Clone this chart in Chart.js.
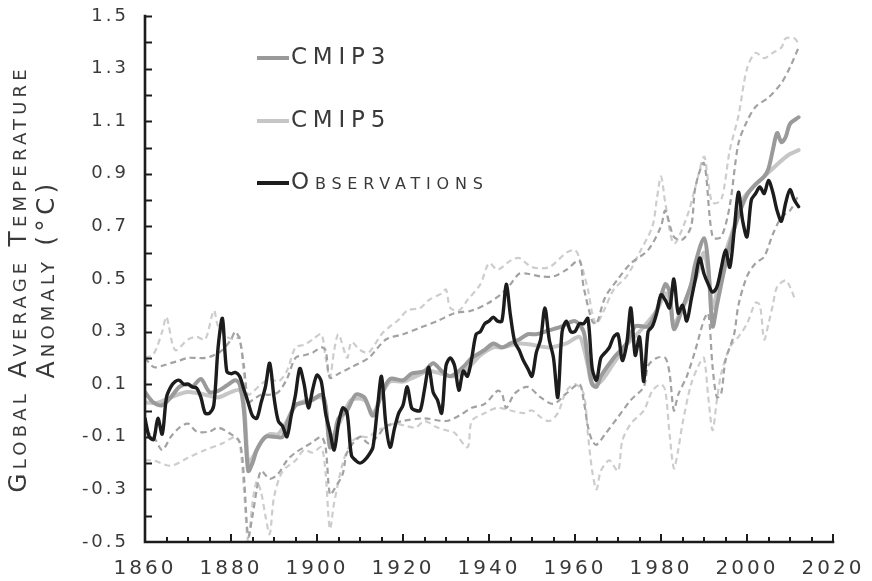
<!DOCTYPE html>
<html>
<head>
<meta charset="utf-8">
<script src="https://cdn.jsdelivr.net/npm/chart.js@4/dist/chart.umd.min.js"></script>
<style>
  html, body { margin: 0; padding: 0; background: #ffffff; }
  #wrap { width: 872px; height: 581px; }
</style>
</head>
<body>
<div id="wrap"><canvas id="chart" width="872" height="581"></canvas></div>
<script>
// Annual global temperature anomaly (°C), observations from 1860 onward
const obsStartYear = 1860;
const observations = [
  -0.03, -0.10, -0.11, -0.03, -0.09, 0.05, 0.09, 0.11, 0.115, 0.10,
  0.10, 0.09, 0.085, 0.05, -0.01, -0.01, 0.02, 0.24, 0.35, 0.15,
  0.14, 0.145, 0.13, 0.08, 0.03, -0.02, -0.03, 0.03, 0.09, 0.18,
  0.05, -0.04, -0.06, -0.10, -0.02, 0.06, 0.16, 0.10, 0.01, 0.08,
  0.135, 0.11, -0.01, -0.08, -0.15, -0.05, 0.01, -0.01, -0.17, -0.19,
  -0.20, -0.19, -0.17, -0.14, 0.00, 0.13, -0.05, -0.14, -0.07, -0.01,
  0.02, 0.09, 0.01, 0.00, 0.00, 0.08, 0.165, 0.07, 0.04, -0.01,
  0.17, 0.20, 0.17, 0.077, 0.15, 0.13, 0.20, 0.29, 0.30, 0.33,
  0.34, 0.355, 0.34, 0.34, 0.48, 0.36, 0.26, 0.23, 0.19, 0.16,
  0.13, 0.22, 0.27, 0.39, 0.27, 0.20, 0.05, 0.30, 0.34, 0.30,
  0.30, 0.33, 0.33, 0.35, 0.16, 0.115, 0.20, 0.22, 0.24, 0.28,
  0.29, 0.19, 0.25, 0.39, 0.21, 0.28, 0.11, 0.30, 0.32, 0.37,
  0.44, 0.42, 0.39, 0.50, 0.37, 0.40, 0.34, 0.42, 0.50, 0.58,
  0.52, 0.48, 0.45, 0.47, 0.54, 0.61, 0.545, 0.68, 0.83, 0.72,
  0.66, 0.80, 0.825, 0.85, 0.825, 0.875, 0.83, 0.76, 0.72, 0.79,
  0.84, 0.80, 0.775
];

// Model ensemble means, [year, anomaly]
const cmip3Mean = [
  [1860,0.07],[1862,0.03],[1864,0.02],[1866,0.05],[1868,0.09],[1870,0.10],[1871,0.09],[1873,0.12],
  [1875,0.07],[1877,0.075],[1879,0.095],[1881,0.115],[1882,0.10],[1883,0.00],[1884,-0.23],[1885,-0.20],
  [1886,-0.15],[1888,-0.10],[1890,-0.10],[1892,-0.10],[1893,-0.05],[1895,0.02],[1897,0.03],[1899,0.04],
  [1901,0.06],[1902,0.02],[1903,-0.14],[1904,-0.10],[1905,-0.03],[1907,0.00],[1909,0.06],[1911,0.05],
  [1913,-0.02],[1915,0.06],[1917,0.12],[1920,0.115],[1922,0.14],[1925,0.15],[1927,0.18],[1929,0.15],
  [1931,0.13],[1934,0.165],[1936,0.20],[1939,0.23],[1941,0.255],[1943,0.24],[1945,0.255],[1947,0.27],
  [1949,0.29],[1951,0.29],[1954,0.305],[1957,0.32],[1960,0.34],[1962,0.30],[1963,0.19],[1964,0.10],
  [1965,0.09],[1966,0.13],[1969,0.20],[1972,0.255],[1974,0.32],[1977,0.32],[1979,0.38],[1981,0.48],
  [1982,0.45],[1983,0.31],[1985,0.39],[1987,0.48],[1988,0.56],[1990,0.655],[1991,0.55],[1992,0.32],
  [1993,0.40],[1994,0.48],[1996,0.63],[1998,0.74],[2000,0.82],[2002,0.86],[2004,0.89],[2005,0.92],
  [2006,0.99],[2007,1.055],[2008,1.02],[2009,1.04],[2010,1.09],[2012,1.115]
];
const cmip5Mean = [
  [1860,0.03],[1863,0.03],[1866,0.05],[1870,0.07],[1874,0.06],[1877,0.05],[1880,0.07],[1882,0.077],
  [1883,0.03],[1884,-0.20],[1885,-0.18],[1887,-0.12],[1889,-0.09],[1891,-0.09],[1893,-0.04],[1895,0.02],
  [1898,0.04],[1901,0.05],[1902,0.01],[1903,-0.12],[1904,-0.09],[1906,-0.02],[1908,0.04],[1911,0.04],
  [1913,-0.01],[1915,0.06],[1917,0.11],[1920,0.11],[1923,0.13],[1926,0.15],[1929,0.14],[1932,0.13],
  [1935,0.16],[1938,0.21],[1941,0.24],[1943,0.24],[1947,0.255],[1950,0.25],[1954,0.24],[1958,0.255],
  [1961,0.28],[1962,0.24],[1963,0.17],[1964,0.10],[1966,0.11],[1969,0.18],[1972,0.25],[1975,0.30],
  [1979,0.38],[1981,0.445],[1982,0.42],[1983,0.33],[1985,0.39],[1987,0.45],[1989,0.55],[1990,0.60],
  [1991,0.52],[1992,0.39],[1993,0.45],[1995,0.60],[1997,0.70],[1998,0.78],[2000,0.825],[2002,0.86],
  [2004,0.89],[2006,0.92],[2008,0.95],[2010,0.975],[2012,0.99]
];

// Ensemble spread (upper and lower bounds), [year, anomaly]
const cmip3Upper = [
  [1860,0.20],[1862,0.165],[1864,0.17],[1866,0.18],[1868,0.19],[1870,0.20],[1872,0.20],[1874,0.20],
  [1876,0.21],[1878,0.23],[1880,0.27],[1881,0.30],[1882,0.27],[1883,0.17],[1884,0.03],[1885,0.04],
  [1887,0.06],[1889,0.06],[1891,0.07],[1893,0.12],[1895,0.20],[1897,0.21],[1899,0.22],[1901,0.24],
  [1902,0.23],[1903,0.125],[1905,0.14],[1908,0.165],[1912,0.20],[1916,0.27],[1920,0.29],[1924,0.315],
  [1928,0.34],[1932,0.37],[1936,0.38],[1940,0.41],[1943,0.445],[1945,0.48],[1947,0.52],[1949,0.52],
  [1952,0.51],[1955,0.51],[1958,0.535],[1961,0.57],[1962,0.47],[1964,0.34],[1965,0.33],[1967,0.43],
  [1970,0.50],[1973,0.56],[1977,0.61],[1980,0.70],[1981,0.76],[1983,0.66],[1985,0.65],[1987,0.70],
  [1988,0.85],[1990,0.94],[1992,0.66],[1994,0.66],[1996,0.78],[1998,1.015],[2000,1.10],[2002,1.155],
  [2005,1.19],[2008,1.245],[2010,1.305],[2012,1.38]
];
const cmip3Lower = [
  [1860,-0.08],[1862,-0.10],[1864,-0.15],[1866,-0.10],[1868,-0.065],[1870,-0.05],[1872,-0.08],[1875,-0.08],
  [1877,-0.065],[1880,-0.09],[1882,-0.12],[1883,-0.25],[1884,-0.48],[1885,-0.40],[1886,-0.30],[1887,-0.23],
  [1889,-0.26],[1891,-0.24],[1893,-0.19],[1895,-0.16],[1897,-0.14],[1899,-0.12],[1901,-0.10],[1902,-0.14],
  [1903,-0.32],[1904,-0.30],[1906,-0.24],[1907,-0.16],[1910,-0.10],[1912,-0.125],[1914,-0.10],[1916,-0.06],
  [1920,-0.04],[1925,-0.03],[1930,-0.04],[1933,-0.02],[1936,0.01],[1939,0.025],[1942,0.075],[1943,0.065],
  [1944,0.01],[1946,0.065],[1949,0.09],[1952,0.05],[1955,0.025],[1958,0.065],[1961,0.10],[1962,0.04],
  [1963,-0.06],[1964,-0.115],[1965,-0.13],[1967,-0.09],[1970,-0.025],[1973,0.04],[1976,0.09],[1977,0.17],
  [1979,0.20],[1981,0.20],[1982,0.14],[1983,0.00],[1984,0.06],[1986,0.13],[1988,0.23],[1990,0.345],
  [1991,0.37],[1992,0.165],[1993,0.05],[1994,0.065],[1995,0.19],[1997,0.29],[1998,0.40],[2000,0.51],
  [2002,0.56],[2004,0.585],[2006,0.67],[2008,0.735],[2010,0.76],[2012,0.82]
];
const cmip5Upper = [
  [1860,0.20],[1862,0.215],[1864,0.30],[1865,0.355],[1867,0.23],[1870,0.27],[1872,0.28],[1874,0.27],
  [1876,0.38],[1877,0.32],[1879,0.28],[1881,0.27],[1882,0.28],[1883,0.14],[1884,0.06],[1885,0.07],
  [1887,0.10],[1889,0.12],[1891,0.11],[1893,0.15],[1895,0.24],[1897,0.25],[1899,0.27],[1901,0.29],
  [1902,0.20],[1903,0.125],[1904,0.23],[1905,0.29],[1907,0.20],[1908,0.26],[1910,0.23],[1912,0.22],
  [1915,0.29],[1917,0.32],[1919,0.345],[1921,0.38],[1924,0.39],[1926,0.42],[1929,0.445],[1930,0.46],
  [1931,0.39],[1933,0.38],[1935,0.42],[1938,0.48],[1940,0.56],[1942,0.535],[1945,0.57],[1947,0.58],
  [1950,0.545],[1954,0.545],[1958,0.60],[1960,0.61],[1961,0.58],[1963,0.46],[1964,0.37],[1965,0.33],
  [1967,0.39],[1969,0.46],[1972,0.51],[1975,0.60],[1978,0.70],[1979,0.80],[1980,0.89],[1981,0.79],
  [1983,0.635],[1986,0.735],[1988,0.85],[1990,0.965],[1991,0.87],[1992,0.79],[1994,0.80],[1996,0.99],
  [1998,1.12],[2000,1.30],[2002,1.36],[2004,1.34],[2006,1.36],[2008,1.38],[2009,1.415],[2011,1.415],
  [2012,1.395]
];
const cmip5Lower = [
  [1860,-0.19],[1862,-0.19],[1866,-0.21],[1870,-0.18],[1874,-0.15],[1878,-0.125],[1881,-0.10],[1882,-0.12],
  [1883,-0.30],[1884,-0.50],[1885,-0.35],[1886,-0.27],[1887,-0.31],[1888,-0.40],[1889,-0.47],[1890,-0.33],
  [1892,-0.23],[1895,-0.19],[1897,-0.15],[1899,-0.16],[1901,-0.14],[1902,-0.24],[1903,-0.45],[1904,-0.35],
  [1906,-0.20],[1908,-0.12],[1910,-0.10],[1912,-0.10],[1914,-0.075],[1916,-0.065],[1918,-0.05],[1921,-0.06],
  [1923,-0.065],[1925,-0.04],[1928,-0.065],[1930,-0.075],[1932,-0.085],[1935,-0.14],[1936,-0.04],[1939,-0.01],
  [1942,0.01],[1945,0.00],[1948,-0.01],[1950,0.00],[1952,-0.025],[1954,-0.04],[1956,-0.01],[1958,0.075],
  [1960,0.10],[1962,0.065],[1963,-0.09],[1964,-0.23],[1965,-0.30],[1966,-0.23],[1968,-0.19],[1970,-0.23],
  [1971,-0.115],[1973,-0.05],[1976,0.00],[1978,0.075],[1980,0.10],[1981,0.075],[1982,-0.09],[1983,-0.22],
  [1984,-0.15],[1985,-0.05],[1987,0.10],[1989,0.18],[1990,0.20],[1991,0.05],[1992,-0.075],[1993,0.04],
  [1994,0.14],[1996,0.24],[1998,0.28],[2000,0.33],[2002,0.41],[2003,0.40],[2004,0.27],[2005,0.33],
  [2006,0.40],[2007,0.47],[2009,0.495],[2010,0.47],[2011,0.43]
];

// Axis tick labels
const xTickLabels = [1860, 1880, 1900, 1920, 1940, 1960, 1980, 2000, 2020];
const yTickLabels = [-0.5, -0.3, -0.1, 0.1, 0.3, 0.5, 0.7, 0.9, 1.1, 1.3, 1.5];

const FONT = "'DejaVu Sans', 'Liberation Sans', sans-serif";
const INK = '#3a3a3a';

const toPoints = pairs => pairs.map(([x, y]) => ({ x, y }));
const obsPoints = observations.map((v, i) => ({ x: obsStartYear + i, y: v }));

const solid = (label, data, color, width) => ({
  label, data, borderColor: color, borderWidth: width, pointRadius: 0,
  tension: 0.3, fill: false, borderJoinStyle: 'round', borderCapStyle: 'round'
});
const dashed = (data, color) => ({
  label: '', data, borderColor: color, borderWidth: 2.2, borderDash: [6, 4],
  pointRadius: 0, tension: 0.3, fill: false
});

// Hand-drawn frame: axis lines with inward tick marks
const framePlugin = {
  id: 'frame',
  beforeDraw(chart) {
    chart.ctx.letterSpacing = '3px';
  },
  afterDatasetsDraw(chart) {
    const { ctx, chartArea: a, scales: { x, y } } = chart;
    ctx.save();
    ctx.strokeStyle = '#1c1c1c';
    ctx.lineWidth = 2.6;
    ctx.lineCap = 'square';
    ctx.beginPath();
    ctx.moveTo(a.left, a.top);
    ctx.lineTo(a.left, a.bottom);
    ctx.lineTo(a.right, a.bottom);
    ctx.stroke();
    ctx.lineWidth = 2;
    ctx.lineCap = 'butt';
    ctx.beginPath();
    for (let i = 1; i <= 20; i++) {
      const py = Math.round(y.getPixelForValue(-0.5 + i * 0.1)) + 0.5;
      ctx.moveTo(a.left, py);
      ctx.lineTo(a.left + 7, py);
    }
    for (let yr = 1865; yr <= 2020; yr += 5) {
      const px = Math.round(x.getPixelForValue(yr));
      const len = yr % 20 === 0 ? 8 : 5;
      ctx.moveTo(px, a.bottom);
      ctx.lineTo(px, a.bottom - len);
    }
    ctx.stroke();
    ctx.restore();
  },
  afterDraw(chart) {
    const { ctx, chartArea: a } = chart;
    // Y-axis title, two rotated lines in small capitals
    ctx.save();
    ctx.fillStyle = INK;
    ctx.font = "small-caps 25px " + FONT;
    ctx.letterSpacing = '4.2px';
    ctx.textAlign = 'center';
    ctx.textBaseline = 'middle';
    const cy = (a.top + a.bottom) / 2;
    ctx.translate(19, cy);
    ctx.rotate(-Math.PI / 2);
    ctx.fillText('Global Average Temperature', 0, 0);
    ctx.fillText('Anomaly (°C)', 0, 28);
    ctx.restore();

    // Legend inside the plot area
    const items = [
      { ds: 1, y: 58 },
      { ds: 2, y: 121 },
      { ds: 0, y: 183 }
    ];
    ctx.save();
    ctx.font = "small-caps 23px " + FONT;
    ctx.letterSpacing = '5.8px';
    ctx.textBaseline = 'middle';
    items.forEach(it => {
      const d = chart.data.datasets[it.ds];
      ctx.strokeStyle = d.borderColor;
      ctx.lineWidth = 4;
      ctx.beginPath();
      ctx.moveTo(257, it.y);
      ctx.lineTo(289, it.y);
      ctx.stroke();
      ctx.fillStyle = INK;
      ctx.fillText(d.label, 291, it.y);
    });
    ctx.restore();
  }
};

new Chart(document.getElementById('chart'), {
  type: 'line',
  data: {
    datasets: [
      solid('Observations', obsPoints, '#1c1c1c', 3.4),
      solid('CMIP3', toPoints(cmip3Mean), '#9a9a9a', 4),
      solid('CMIP5', toPoints(cmip5Mean), '#c6c6c6', 4),
      dashed(toPoints(cmip3Upper), '#a2a2a2'),
      dashed(toPoints(cmip3Lower), '#a2a2a2'),
      dashed(toPoints(cmip5Upper), '#cdcdcd'),
      dashed(toPoints(cmip5Lower), '#cdcdcd')
    ]
  },
  options: {
    responsive: false,
    animation: false,
    devicePixelRatio: 1,
    layout: { padding: { left: 0, top: 16, right: 39, bottom: 0 } },
    plugins: { legend: { display: false }, tooltip: { enabled: false } },
    scales: {
      x: {
        type: 'linear',
        min: 1860, max: 2020,
        grid: { display: false, drawTicks: false },
        border: { display: false },
        afterBuildTicks: s => { s.ticks = xTickLabels.map(v => ({ value: v })); },
        afterFit: s => { s.height = 39; s.paddingLeft = 0; s.paddingRight = 0; },
        ticks: {
          color: INK, padding: 15, maxRotation: 0, autoSkip: false,
          font: { family: FONT, size: 20 },
          callback: v => String(v)
        }
      },
      y: {
        type: 'linear',
        min: -0.5, max: 1.5,
        grid: { display: false, drawTicks: false },
        border: { display: false },
        afterBuildTicks: s => { s.ticks = yTickLabels.map(v => ({ value: v })); },
        afterFit: s => { s.width = 145; s.paddingTop = 0; s.paddingBottom = 0; },
        ticks: {
          color: INK, padding: 16, autoSkip: false,
          font: { family: FONT, size: 18 },
          callback: v => (Math.round(v * 10) / 10).toFixed(1)
        }
      }
    }
  },
  plugins: [framePlugin]
});
</script>
</body>
</html>
